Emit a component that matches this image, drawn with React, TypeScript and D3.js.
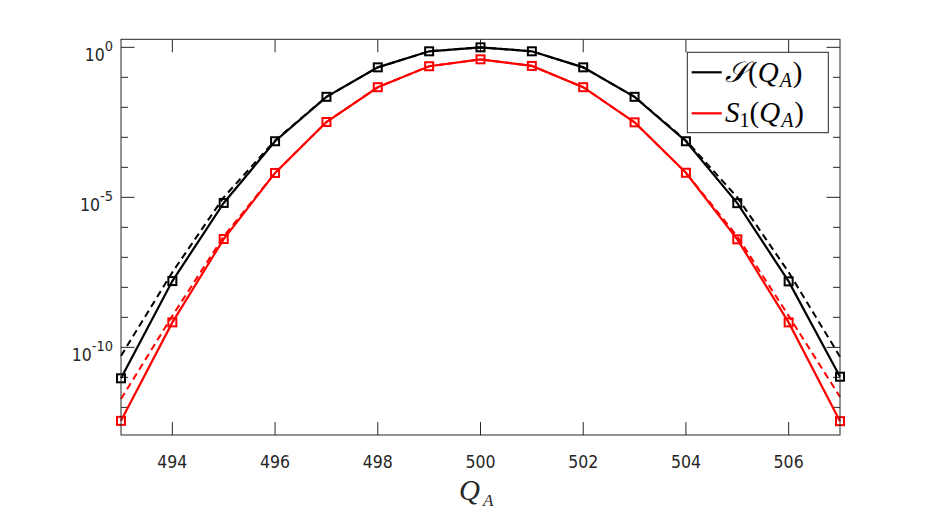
import * as React from "react";
import * as d3 from "d3";

// charge number Q_A on the x axis
const qa: number[] = [493, 494, 495, 496, 497, 498, 499, 500, 501, 502, 503, 504, 505, 506, 507];

// S(Q_A), solid black with square markers
const sTotal: number[] = [
  9.3e-12, 1.62e-8, 6.5e-6, 7.4e-4, 0.0224, 0.215, 0.736, 1.0,
  0.736, 0.215, 0.0224, 7.4e-4, 6.4e-6, 1.58e-8, 1.05e-11
];

// S_1(Q_A), solid red with square markers
const sOne: number[] = [
  3.55e-13, 6.8e-10, 4.07e-7, 6.5e-5, 3.24e-3, 0.0468, 0.234, 0.398,
  0.24, 0.0468, 3.16e-3, 6.6e-5, 3.98e-7, 6.8e-10, 3.47e-13
];

// dashed approximations
const sTotalApprox: number[] = [
  5.2e-11, 3.2e-8, 1.0e-5, 7.9e-4, 0.0224, 0.215, 0.736, 1.0,
  0.736, 0.215, 0.0224, 7.9e-4, 1.0e-5, 3.2e-8, 4.9e-11
];
const sOneApprox: number[] = [
  1.9e-12, 1.12e-9, 5.0e-7, 6.5e-5, 3.24e-3, 0.0468, 0.234, 0.398,
  0.24, 0.0468, 3.16e-3, 6.6e-5, 5.0e-7, 1.12e-9, 2.24e-12
];

const xTicks: number[] = [494, 496, 498, 500, 502, 504, 506];
const yTickExponents: number[] = [-12, -11, -10, -9, -8, -7, -6, -5, -4, -3, -2, -1, 0];
const yLabelExponents: number[] = [-10, -5, 0];

const W = 929;
const H = 514;
const margin = { left: 121, right: W - 840, top: 39.3, bottom: H - 435 };
const axisColor = "#262626";
const tickFont = "'DejaVu Sans Condensed', 'DejaVu Sans', sans-serif";
const mathFont = "'Liberation Serif', 'DejaVu Serif', serif";

export default function App(): JSX.Element {
  const ref = React.useRef<SVGSVGElement>(null);

  React.useEffect(() => {
    const svg = d3.select(ref.current);
    svg.selectAll("*").remove();

    const x = d3.scaleLinear().domain([493, 507]).range([margin.left, W - margin.right]);
    const y = d3.scaleLog().domain([1.2e-13, 1.85]).range([H - margin.bottom, margin.top]);

    const x0 = margin.left;
    const x1 = W - margin.right;
    const y0 = H - margin.bottom;
    const y1 = margin.top;

    const g = svg.append("g");

    // ticks (inward, on all four sides)
    const ticks = g.append("g").attr("stroke", axisColor).attr("stroke-width", 1);
    xTicks.forEach((t: number) => {
      ticks.append("line").attr("x1", x(t)).attr("x2", x(t)).attr("y1", y0).attr("y2", y0 - 13);
      ticks.append("line").attr("x1", x(t)).attr("x2", x(t)).attr("y1", y1).attr("y2", y1 + 13);
    });
    yTickExponents.forEach((e: number) => {
      const len = yLabelExponents.indexOf(e) >= 0 ? 13.5 : 7;
      const yy = y(Math.pow(10, e));
      ticks.append("line").attr("x1", x0).attr("x2", x0 + len).attr("y1", yy).attr("y2", yy);
      ticks.append("line").attr("x1", x1).attr("x2", x1 - len).attr("y1", yy).attr("y2", yy);
    });

    // tick labels
    xTicks.forEach((t: number) => {
      g.append("text")
        .attr("x", x(t))
        .attr("y", 468)
        .attr("text-anchor", "middle")
        .attr("font-family", tickFont)
        .attr("font-size", 17.5)
        .attr("fill", axisColor)
        .text(String(t));
    });
    yLabelExponents.forEach((e: number) => {
      const yy = y(Math.pow(10, e));
      const txt = g.append("text")
        .attr("x", 113)
        .attr("y", yy + 14)
        .attr("text-anchor", "end")
        .attr("font-family", tickFont)
        .attr("fill", axisColor);
      txt.append("tspan").attr("font-size", 17.5).text("10");
      txt.append("tspan").attr("font-size", 14.5).attr("dy", -10).text(String(e));
    });

    const line = d3.line<number>()
      .x((_d: number, i: number) => x(qa[i]))
      .y((d: number) => y(d));

    const plot = g.append("g");
    const series = [
      { solid: sTotal, dashed: sTotalApprox, color: "#000000" },
      { solid: sOne, dashed: sOneApprox, color: "#ff0000" }
    ];
    // dashed approximations underneath
    series.forEach((s) => {
      plot.append("path")
        .attr("d", line(s.dashed))
        .attr("fill", "none")
        .attr("stroke", s.color)
        .attr("stroke-width", 2)
        .attr("stroke-dasharray", "7,4.5");
    });
    series.forEach((s) => {
      plot.append("path")
        .attr("d", line(s.solid))
        .attr("fill", "none")
        .attr("stroke", s.color)
        .attr("stroke-width", 2.2);
      plot.selectAll(null)
        .data(s.solid)
        .enter()
        .append("rect")
        .attr("x", (_d: number, i: number) => x(qa[i]) - 4)
        .attr("y", (d: number) => y(d) - 4)
        .attr("width", 8)
        .attr("height", 8)
        .attr("fill", "none")
        .attr("stroke", s.color)
        .attr("stroke-width", 2);
    });

    // axes box
    g.append("rect")
      .attr("x", x0)
      .attr("y", y1)
      .attr("width", x1 - x0)
      .attr("height", y0 - y1)
      .attr("fill", "none")
      .attr("stroke", axisColor)
      .attr("stroke-width", 1);

    // x axis title
    const xt = g.append("text")
      .attr("x", 459)
      .attr("y", 500)
      .attr("font-family", mathFont)
      .attr("font-style", "italic")
      .attr("fill", axisColor);
    xt.append("tspan").attr("font-size", 29).text("Q");
    xt.append("tspan").attr("font-size", 17).attr("dy", 6).attr("dx", 3).text("A");

    // legend
    const lg = g.append("g");
    lg.append("rect")
      .attr("x", 687.3)
      .attr("y", 52.3)
      .attr("width", 141)
      .attr("height", 80.4)
      .attr("fill", "#ffffff")
      .attr("stroke", axisColor)
      .attr("stroke-width", 1);
    const entries = [
      { head: "\u{1D4AE}", sub: "", color: "#000000", y: 72.3, base: 82 },
      { head: "S", sub: "1", color: "#ff0000", y: 113.3, base: 122 }
    ];
    entries.forEach((e) => {
      lg.append("line")
        .attr("x1", 691.7)
        .attr("x2", 721.7)
        .attr("y1", e.y)
        .attr("y2", e.y)
        .attr("stroke", e.color)
        .attr("stroke-width", 2.2);
      const t = lg.append("text")
        .attr("x", 725)
        .attr("y", e.base)
        .attr("font-family", mathFont)
        .attr("font-size", 29)
        .attr("fill", "#000000");
      t.append("tspan").attr("font-style", "italic").text(e.head);
      if (e.sub) {
        t.append("tspan").attr("font-size", 20).attr("dy", 5).text(e.sub);
        t.append("tspan").attr("dy", -5).text("(");
      } else {
        t.append("tspan").attr("dx", 1).text("(");
      }
      t.append("tspan").attr("font-style", "italic").text("Q");
      t.append("tspan").attr("font-style", "italic").attr("font-size", 20).attr("dy", 5).attr("dx", 1).text("A");
      t.append("tspan").attr("dy", -5).attr("dx", 1).text(")");
    });
  }, []);

  return (
    <svg
      ref={ref}
      width={W}
      height={H}
      style={{ position: "absolute", left: 0, top: 0, background: "#ffffff" }}
    />
  );
}
